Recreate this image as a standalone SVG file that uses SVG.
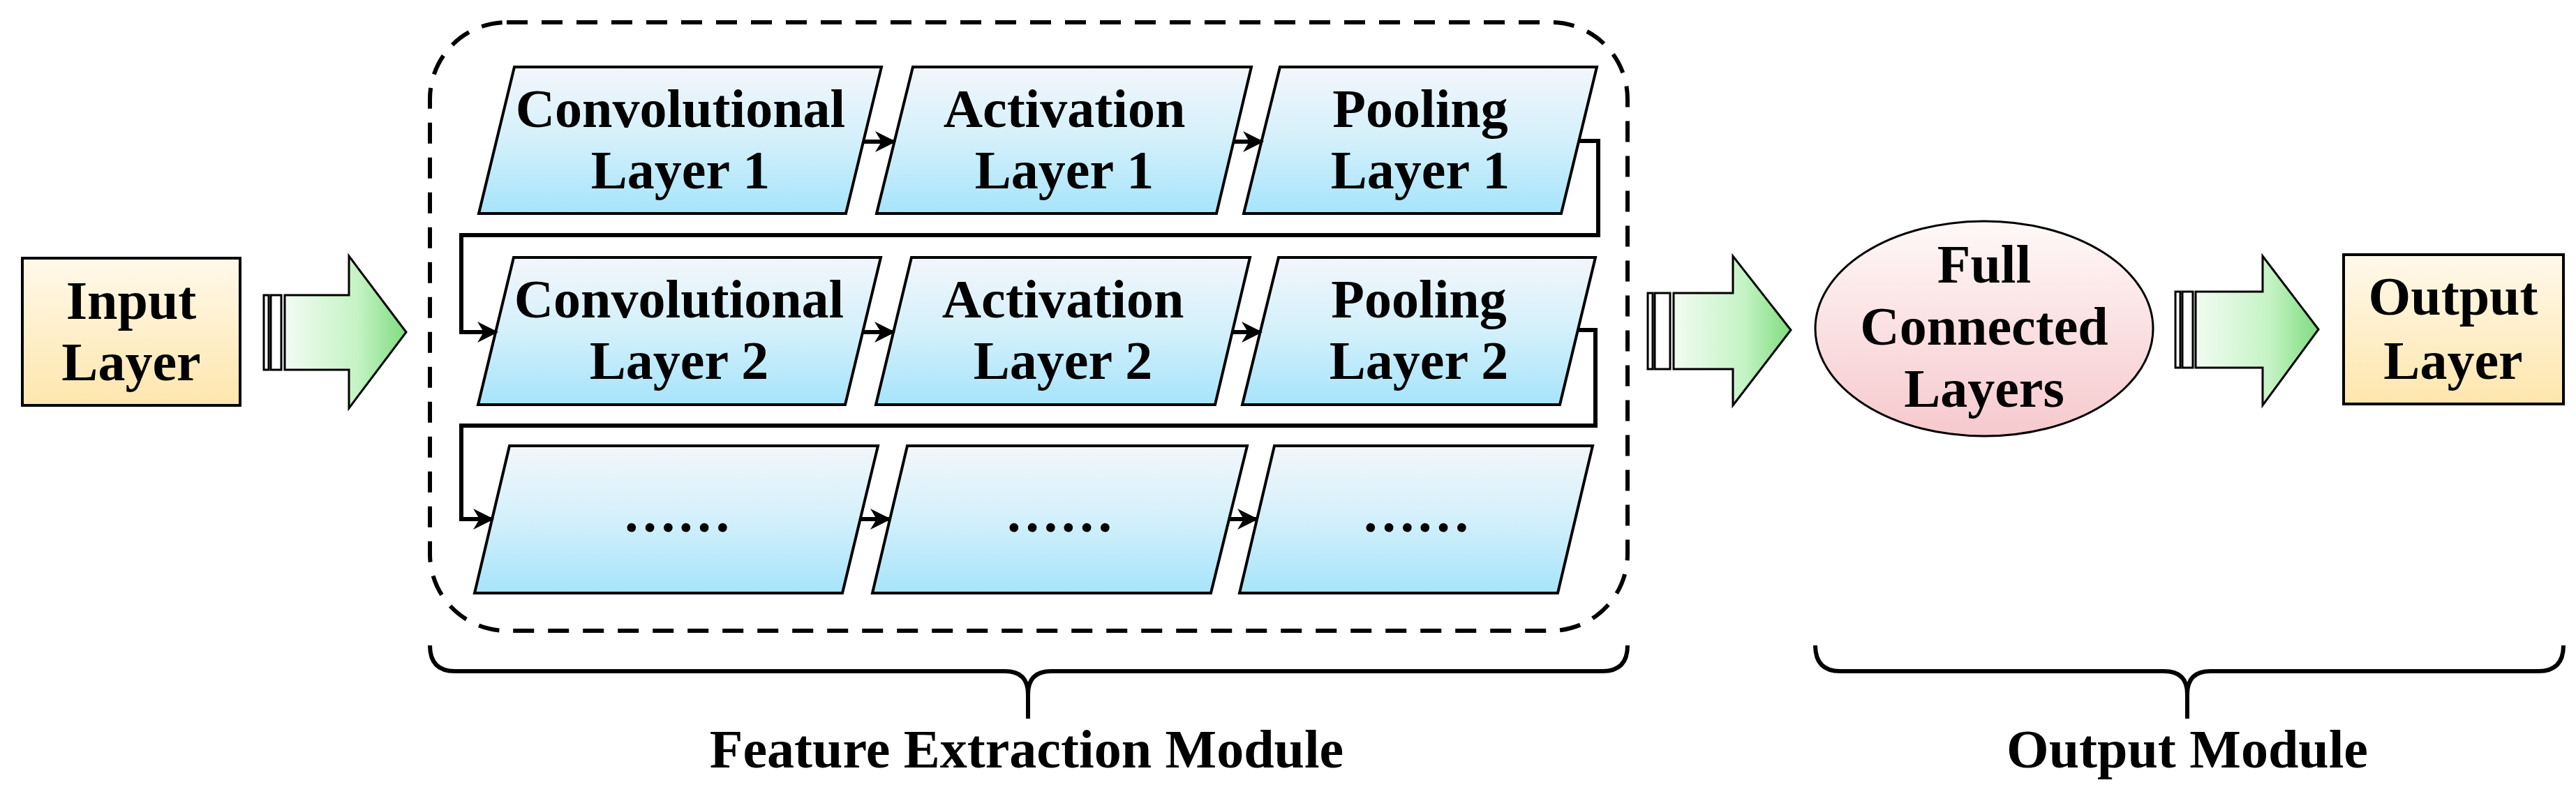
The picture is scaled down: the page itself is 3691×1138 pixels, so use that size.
<svg xmlns="http://www.w3.org/2000/svg" width="3691" height="1138" viewBox="0 0 3691 1138">
<defs>
<linearGradient id="gBlue" x1="0" y1="0" x2="0" y2="1"><stop offset="0" stop-color="#f3f6fb"/><stop offset="0.5" stop-color="#d3f0fb"/><stop offset="1" stop-color="#a6e4fb"/></linearGradient>
<linearGradient id="gYel" x1="0" y1="0" x2="0" y2="1"><stop offset="0" stop-color="#fff9ea"/><stop offset="1" stop-color="#fee6ad"/></linearGradient>
<linearGradient id="gPink" x1="0" y1="0" x2="0" y2="1"><stop offset="0" stop-color="#fff8f8"/><stop offset="1" stop-color="#f6c9cd"/></linearGradient>
<linearGradient id="gGreen" x1="0" y1="0" x2="1" y2="0"><stop offset="0" stop-color="#f2fbf2"/><stop offset="0.6" stop-color="#c5f3c5"/><stop offset="1" stop-color="#7fdc7f"/></linearGradient>
<marker id="ah" viewBox="0 0 10 10" refX="9" refY="5" markerWidth="5" markerHeight="5" markerUnits="strokeWidth" orient="auto"><path d="M0,0 L10,5 L0,10 L3,5 Z" fill="#000"/></marker>
</defs>
<style>
text{font-family:"Liberation Serif","Times New Roman",serif;font-weight:bold;font-size:78px;fill:#000;text-anchor:middle}
.par{fill:url(#gBlue);stroke:#000;stroke-width:4}
.box{fill:url(#gYel);stroke:#000;stroke-width:4}
.arr{fill:url(#gGreen);stroke:#000;stroke-width:3}
.strip{fill:#fff;stroke:#000;stroke-width:3}
.con{fill:none;stroke:#000;stroke-width:6;marker-end:url(#ah)}
.brace{fill:none;stroke:#000;stroke-width:6}
</style>
<rect width="3691" height="1138" fill="#fff"/>
<rect id="module" x="616" y="32" width="1716" height="872" rx="110" ry="110" fill="none" stroke="#000" stroke-width="6" stroke-dasharray="30 20"/>

<g id="input"><rect class="box" x="32" y="370" width="312" height="211"/><text x="188" y="457">Input</text><text x="188" y="545">Layer</text></g>

<g id="arrow1"><rect class="strip" x="378" y="423" width="7" height="107"/><rect class="strip" x="388" y="423" width="15" height="107"/><path class="arr" d="M408,423 H500 V367 L582,476 L500,585 V530 H408 Z"/></g>

<g id="conv1"><path class="par" d="M737,96 H1263 L1212,306 H686 Z"/><text x="975" y="182">Convolutional</text><text x="975" y="270">Layer 1</text></g>
<g id="act1"><path class="par" d="M1308,96 H1793 L1743,306 H1256 Z"/><text x="1525" y="182">Activation</text><text x="1525" y="270">Layer 1</text></g>
<g id="pool1"><path class="par" d="M1834,96 H2288 L2237,306 H1782 Z"/><text x="2035" y="182">Pooling</text><text x="2035" y="270">Layer 1</text></g>

<g id="conv2"><path class="par" d="M736,369 H1262 L1211,580 H685 Z"/><text x="973" y="455">Convolutional</text><text x="973" y="543">Layer 2</text></g>
<g id="act2"><path class="par" d="M1306,369 H1791 L1741,580 H1255 Z"/><text x="1523" y="455">Activation</text><text x="1523" y="543">Layer 2</text></g>
<g id="pool2"><path class="par" d="M1832,369 H2286 L2235,580 H1780 Z"/><text x="2033" y="455">Pooling</text><text x="2033" y="543">Layer 2</text></g>

<g id="conv3"><path class="par" d="M730,639 H1258 L1207,850 H680 Z"/><text x="970" y="762">……</text></g>
<g id="act3"><path class="par" d="M1300,639 H1787 L1735,850 H1250 Z"/><text x="1518" y="762">……</text></g>
<g id="pool3"><path class="par" d="M1826,639 H2282 L2232,850 H1776 Z"/><text x="2029" y="762">……</text></g>

<g id="arrow2"><rect class="strip" x="2361" y="420" width="7" height="109"/><rect class="strip" x="2371" y="420" width="22" height="109"/><path class="arr" d="M2398,420 H2483 V367 L2566,473 L2483,581 V529 H2398 Z"/></g>

<g id="fc"><ellipse cx="2843" cy="471" rx="242" ry="154" fill="url(#gPink)" stroke="#000" stroke-width="3"/><text x="2843" y="405">Full</text><text x="2843" y="494">Connected</text><text x="2843" y="583">Layers</text></g>

<g id="arrow3"><rect class="strip" x="3117" y="418" width="7" height="109"/><rect class="strip" x="3127" y="418" width="15" height="109"/><path class="arr" d="M3146,418 H3242 V367 L3322,472 L3242,581 V527 H3146 Z"/></g>

<g id="output"><rect class="box" x="3358" y="365" width="315" height="214"/><text x="3515" y="451">Output</text><text x="3515" y="543">Layer</text></g>

<g id="connectors">
<path class="con" d="M1237,203 H1281"/>
<path class="con" d="M1767,203 H1808"/>
<path class="con" d="M1236,476 H1280"/>
<path class="con" d="M1766,476 H1806"/>
<path class="con" d="M1232,744 H1274"/>
<path class="con" d="M1760,744 H1800"/>
<path class="con" d="M2262,202 H2290 V337 H661 V476 H711"/>
<path class="con" d="M2260,473 H2286 V610 H661 V744 H705"/>
</g>

<g id="featureBrace"><path class="brace" d="M616,925 Q616,962 652,962 H1440 Q1473,962 1473,995 V1030 M1473,995 Q1473,962 1506,962 H2296 Q2332,962 2332,925"/><text x="1471" y="1100">Feature Extraction Module</text></g>
<g id="outputBrace"><path class="brace" d="M2601,925 Q2601,962 2637,962 H3101 Q3134,962 3134,995 V1030 M3134,995 Q3134,962 3167,962 H3637 Q3673,962 3673,925"/><text x="3134" y="1100">Output Module</text></g>
</svg>
